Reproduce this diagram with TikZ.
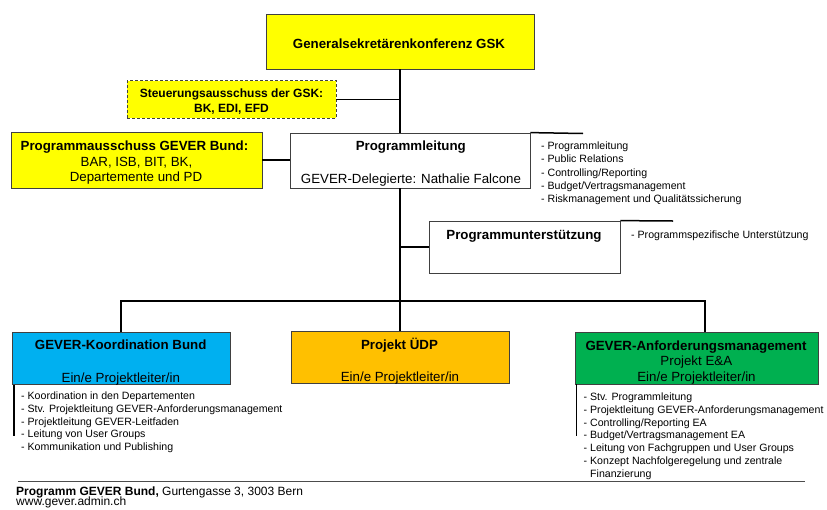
\documentclass[tikz,border=0pt]{standalone}
\usepackage{fontspec}
\setmainfont{Liberation Sans}
\definecolor{gyellow}{HTML}{FFFF00}
\definecolor{gcyan}{HTML}{00B0F0}
\definecolor{gorange}{HTML}{FFC000}
\definecolor{ggreen}{HTML}{00B050}
\begin{document}
\begin{tikzpicture}[x=1pt,y=-1pt,
  box/.style={draw=black!75, line width=0.8pt, inner sep=0pt, rectangle},
  conn/.style={line width=1.5pt, black},
  listline/.style={line width=1.2pt, black},
  head/.style={font=\fontsize{13.3}{15.5}\selectfont\bfseries, inner sep=0pt, anchor=base},
  headsmall/.style={font=\fontsize{12}{15}\selectfont\bfseries, inner sep=0pt, anchor=base},
  body/.style={font=\fontsize{13.3}{15.5}\selectfont, inner sep=0pt, anchor=base},
  listtext/.style={font=\fontsize{10.6}{12.75}\selectfont, inner sep=0pt, anchor=north west, align=left},
  foot/.style={font=\fontsize{12}{13.5}\selectfont, inner sep=0pt, anchor=base west},
]
\useasboundingbox (0,0) rectangle (827,509);

% boxes
\node[box, fill=gyellow, minimum width=268pt, minimum height=55pt] (gsk) at (400,41.5) {};
\node[box, fill=gyellow, dash pattern=on 3pt off 2pt, minimum width=209pt, minimum height=37.5pt] (steu) at (231.5,99.25) {};
\node[box, fill=gyellow, minimum width=251pt, minimum height=56pt] (pa) at (136.5,160) {};
\node[box, fill=white, minimum width=240pt, minimum height=55pt] (pl) at (410,160.5) {};
\node[box, fill=white, minimum width=191pt, minimum height=52pt] (pu) at (524.5,247) {};
\node[box, fill=gcyan, minimum width=218pt, minimum height=52.5pt] (kb) at (121,358.25) {};
\node[box, fill=gorange, minimum width=218pt, minimum height=52pt] (udp) at (400,357) {};
\node[box, fill=ggreen, minimum width=243pt, minimum height=52pt] (anf) at (696.5,358) {};

% box texts
\node[head] (tgsk) at (399,48) {Generalsekretärenkonferenz GSK};
\node[headsmall] (tsteua) at (231.5,97.5) {Steuerungsausschuss der GSK:};
\node[headsmall] (tsteub) at (231.5,112.3) {BK, EDI, EFD};
\node[head] (tpaa) at (134.5,150.8) {Programmausschuss GEVER Bund:};
\node[body] (tpab) at (136.5,166.5) {BAR, ISB, BIT, BK,};
\node[body] (tpac) at (136,181.8) {Departemente und PD};
\node[head] (tpla) at (410.8,150.5) {Programmleitung};
\node[body] (tplb) at (411,183) {GEVER-Delegierte: Nathalie Falcone};
\node[head] (tpu) at (524,239) {Programmunterstützung};
\node[head] (tkba) at (120.7,349.8) {GEVER-Koordination Bund};
\node[body] (tkbb) at (120.8,382.5) {Ein/e Projektleiter/in};
\node[head] (tudpa) at (399.5,349) {Projekt ÜDP};
\node[body] (tudpb) at (400,381.5) {Ein/e Projektleiter/in};
\node[head] (tanfa) at (696,350.5) {GEVER-Anforderungsmanagement};
\node[body] (tanfb) at (696.3,365.8) {Projekt E\&A};
\node[body] (tanfc) at (696.5,381.8) {Ein/e Projektleiter/in};

% lists
\node[listtext, font=\fontsize{10.6}{13.1}\selectfont] (pllist) at (541,142)
  {- Programmleitung\\- Public Relations\\- Controlling/Reporting\\- Budget/Vertragsmanagement\\- Riskmanagement und Qualitätssicherung};
\node[listtext] (pulist) at (631,231) {- Programmspezifische Unterstützung};
\node[listtext] (kblist) at (21,391.7)
  {- Koordination in den Departementen\\- Stv. Projektleitung GEVER-Anforderungsmanagement\\- Projektleitung GEVER-Leitfaden\\- Leitung von User Groups\\- Kommunikation und Publishing};
\node[listtext] (anflist) at (583.5,392.7)
  {- Stv. Programmleitung\\- Projektleitung GEVER-Anforderungsmanagement\\- Controlling/Reporting EA\\- Budget/Vertragsmanagement EA\\- Leitung von Fachgruppen und User Groups\\- Konzept Nachfolgeregelung und zentrale\\\phantom{- }Finanzierung};

% connector coordinates
\coordinate (bus) at (400,301);
\coordinate (anfdrop) at (705,332);
\coordinate (plend) at (583,133.5);
\coordinate (puend) at (673,221);
\coordinate (kbl) at (14,436);
\coordinate (anfl) at (576.5,436);

% connectors
\draw[conn] (gsk.south) -- (gsk.south |- pl.north);
\draw[conn] (gsk.south |- pl.south) -- (udp.north);
\draw[conn] (steu.east) -- (steu.east -| gsk.south);
\draw[conn] (pa.east) -- (pa.east -| pl.west);
\draw[conn] (pu.west) -- (pu.west -| gsk.south);
\draw[conn] (kb.north) |- (bus) -| (anfdrop);
\draw[conn] (pl.north east) -- (plend);
\draw[conn] (pu.north east) -- (puend);
\draw[listline] (kb.south -| kbl) -- (kbl);
\draw[listline] (anf.south -| anfl) -- (anfl);

% footer
\coordinate (fl) at (18,481.7);
\coordinate (fr) at (805,481.7);
\draw[line width=1pt, black!70] (fl) -- (fr);
\node[foot] (foota) at (16,495) {\textbf{Programm GEVER Bund,} Gurtengasse 3, 3003 Bern};
\node[foot] (footb) at (16,505.8) {www.gever.admin.ch};
\end{tikzpicture}
\end{document}
